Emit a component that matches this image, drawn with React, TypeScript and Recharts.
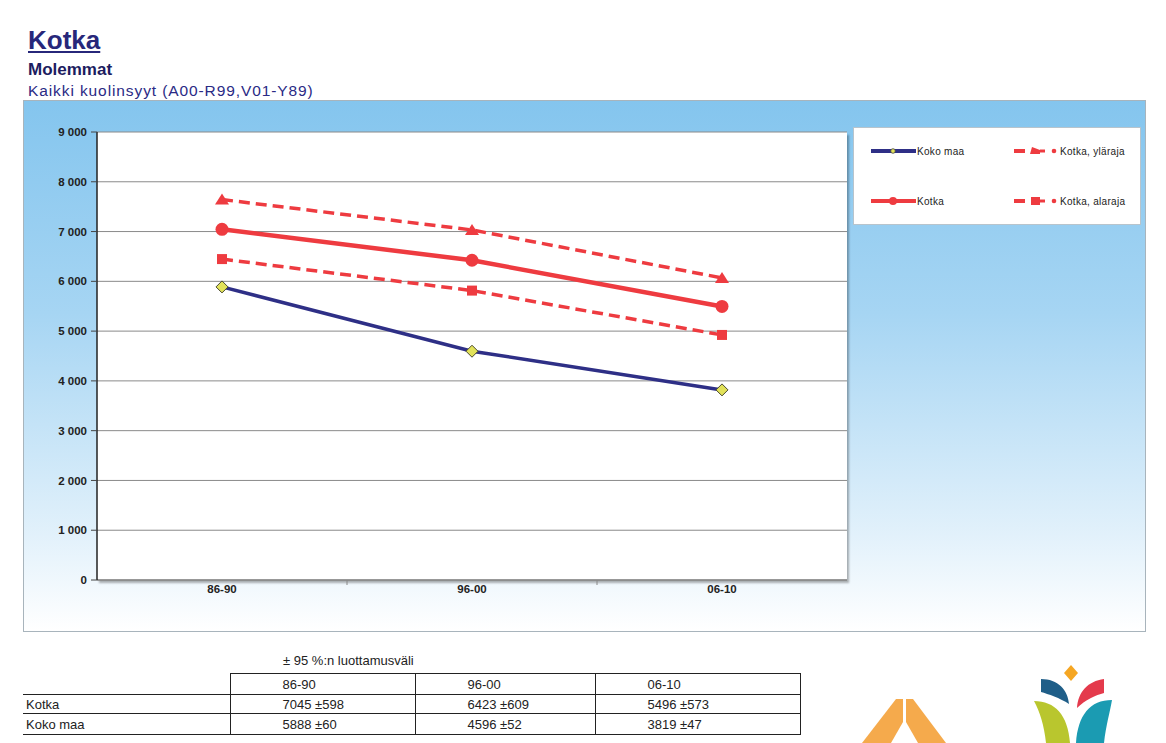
import React from 'react';
import { LineChart, Line, XAxis, YAxis, CartesianGrid, Legend } from 'recharts';

const periods = ['86-90', '96-00', '06-10'];
const kokoMaa = [5888, 4596, 3819];
const kotka = [7045, 6423, 5496];
const kotkaYlaraja = [7643, 7032, 6069];
const kotkaAlaraja = [6447, 5814, 4923];
const kotkaVali = [598, 609, 573];
const kokoMaaVali = [60, 52, 47];
const yTicks = [0, 1000, 2000, 3000, 4000, 5000, 6000, 7000, 8000, 9000];

const NAVY = '#2e2f86';
const RED = '#ee3b40';
const YELLOW = '#e2e25a';
const FONT = '"Liberation Sans", Arial, sans-serif';
const PLOT_W = 750;

const chartData = periods.map((period, i) => ({
  period,
  kokoMaa: kokoMaa[i],
  kotka: kotka[i],
  ylaraja: kotkaYlaraja[i],
  alaraja: kotkaAlaraja[i],
}));

const formatThousands = (v: number) => String(v).replace(/\B(?=(\d{3})+(?!\d))/g, ' ');

// markers
const diamondDot = (props: any) => {
  const { cx, cy, index } = props;
  return (
    <path
      key={`d-${index}`}
      d={`M${cx},${cy - 6} L${cx + 6},${cy} L${cx},${cy + 6} L${cx - 6},${cy} Z`}
      fill={YELLOW}
      stroke='#4a4a30'
      strokeWidth={1}
    />
  );
};
const circleDot = (props: any) => {
  const { cx, cy, index } = props;
  return <circle key={`c-${index}`} cx={cx} cy={cy} r={6.5} fill={RED} />;
};
const triangleDot = (props: any) => {
  const { cx, cy, index } = props;
  return <path key={`t-${index}`} d={`M${cx},${cy - 6} L${cx + 7},${cy + 5} L${cx - 7},${cy + 5} Z`} fill={RED} />;
};
const squareDot = (props: any) => {
  const { cx, cy, index } = props;
  return <rect key={`s-${index}`} x={cx - 5} y={cy - 5} width={10} height={10} fill={RED} />;
};

const XTick = (props: any) => {
  const { x, y, payload, index } = props;
  const half = PLOT_W / periods.length / 2;
  return (
    <g>
      <text x={x} y={y + 13} textAnchor='middle' fontSize={11.5} fontWeight='bold' fill='#222' fontFamily={FONT}>
        {payload.value}
      </text>
      {index < periods.length - 1 && <line x1={x + half} x2={x + half} y1={y} y2={y + 5} stroke='#888' />}
    </g>
  );
};

const legendItems = [
  { name: 'Koko maa', kind: 'koko', left: 17, top: 17 },
  { name: 'Kotka, yläraja', kind: 'yla', left: 160, top: 17 },
  { name: 'Kotka', kind: 'kotka', left: 17, top: 67 },
  { name: 'Kotka, alaraja', kind: 'ala', left: 160, top: 67 },
];

function LegendIcon({ kind }: { kind: string }) {
  if (kind === 'koko') {
    return (
      <svg width={46} height={12}>
        <line x1={0} x2={45} y1={6} y2={6} stroke={NAVY} strokeWidth={4} />
        <circle cx={22} cy={6} r={2.3} fill={YELLOW} stroke='#444' strokeWidth={0.8} />
      </svg>
    );
  }
  if (kind === 'kotka') {
    return (
      <svg width={46} height={12}>
        <line x1={0} x2={45} y1={6} y2={6} stroke={RED} strokeWidth={4} />
        <circle cx={22} cy={6} r={4} fill={RED} />
      </svg>
    );
  }
  return (
    <svg width={46} height={12}>
      <line x1={0} x2={11} y1={6} y2={6} stroke={RED} strokeWidth={4} />
      {kind === 'yla' ? (
        <path d='M18,2 L26,5 L26,9 L16,9 Z' fill={RED} />
      ) : (
        <rect x={17} y={2} width={9} height={8} fill={RED} />
      )}
      <line x1={26} x2={31} y1={6} y2={6} stroke={RED} strokeWidth={3} />
      <circle cx={40} cy={6} r={2.3} fill={RED} />
    </svg>
  );
}

function LegendBox() {
  return (
    <div
      style={{
        position: 'relative',
        width: 288,
        height: 98,
        background: '#fff',
        border: '1px solid #b8c4cc',
        boxSizing: 'border-box',
        fontFamily: FONT,
      }}
    >
      {legendItems.map((it) => (
        <div
          key={it.name}
          style={{
            position: 'absolute',
            left: it.left,
            top: it.top,
            display: 'flex',
            alignItems: 'center',
            fontSize: 10,
            letterSpacing: 0.3,
            color: '#222',
          }}
        >
          <LegendIcon kind={it.kind} />
          <span style={{ marginLeft: 0 }}>{it.name}</span>
        </div>
      ))}
    </div>
  );
}

function Logos() {
  return (
    <svg width={326} height={93} viewBox='840 650 326 93' style={{ position: 'absolute', left: 840, top: 650 }}>
      <path d='M896,699 L903,699 L903,722 L891,743 L862,743 Z' fill='#f5aa4c' />
      <path d='M913,699 L906,699 L906,722 L918,743 L946,743 Z' fill='#f5aa4c' />
      <path d='M1071,665 L1078,673 L1071,681 L1064,673 Z' fill='#f5a623' />
      <path d='M1041,679 C1058,679 1068,690 1069,704 C1060,698 1048,694 1041,692 Z' fill='#1f5e88' />
      <path d='M1104,679 C1088,681 1078,692 1077,708 C1085,700 1096,695 1104,693 Z' fill='#e43a4c' />
      <path d='M1034,701 C1055,701 1068,715 1070,743 L1046,743 C1044,725 1040,712 1034,701 Z' fill='#b9c62e' />
      <path d='M1112,700 C1090,700 1078,715 1076,743 L1104,743 C1106,725 1110,712 1112,700 Z' fill='#1b9bb2' />
    </svg>
  );
}

const cell: React.CSSProperties = { border: '1px solid #222', padding: '0 0 0 52px', textAlign: 'left', whiteSpace: 'nowrap' };
const labelCell: React.CSSProperties = { border: '1px solid #222', borderLeft: 'none', padding: '0 0 0 3px', textAlign: 'left' };

function ValueTable() {
  return (
    <>
      <div style={{ position: 'absolute', left: 283, top: 653, fontSize: 13, color: '#222', fontFamily: FONT }}>± 95 %:n luottamusväli</div>
      <table
        style={{
          position: 'absolute',
          left: 23,
          top: 673,
          borderCollapse: 'collapse',
          fontSize: 13,
          color: '#222',
          fontFamily: FONT,
          tableLayout: 'fixed',
          width: 777,
        }}
      >
        <colgroup>
          <col style={{ width: 207 }} />
          <col style={{ width: 185 }} />
          <col style={{ width: 180 }} />
          <col style={{ width: 205 }} />
        </colgroup>
        <tbody>
          <tr style={{ height: 21 }}>
            <td style={{ border: 'none', borderBottom: '1px solid #222' }} />
            {periods.map((p) => (
              <td key={p} style={cell}>
                {p}
              </td>
            ))}
          </tr>
          <tr style={{ height: 19 }}>
            <td style={labelCell}>Kotka</td>
            {kotka.map((v, i) => (
              <td key={i} style={cell}>
                {v} ±{kotkaVali[i]}
              </td>
            ))}
          </tr>
          <tr style={{ height: 21 }}>
            <td style={labelCell}>Koko maa</td>
            {kokoMaa.map((v, i) => (
              <td key={i} style={cell}>
                {v} ±{kokoMaaVali[i]}
              </td>
            ))}
          </tr>
        </tbody>
      </table>
    </>
  );
}

export default function App() {
  return (
    <div style={{ position: 'absolute', left: 0, top: 0, width: 1166, height: 743, overflow: 'hidden', background: '#fff', fontFamily: FONT }}>
      <div style={{ position: 'absolute', left: 28, top: 27, fontSize: 26, fontWeight: 'bold', color: '#27277a', textDecoration: 'underline', lineHeight: 1 }}>
        Kotka
      </div>
      <div style={{ position: 'absolute', left: 28, top: 61, fontSize: 17, fontWeight: 'bold', color: '#1c1c60', lineHeight: 1 }}>Molemmat</div>
      <div style={{ position: 'absolute', left: 28, top: 83, fontSize: 15.5, letterSpacing: 0.9, color: '#2a2a85', lineHeight: 1 }}>
        Kaikki kuolinsyyt (A00-R99,V01-Y89)
      </div>

      {/* blue gradient panel */}
      <div
        style={{
          position: 'absolute',
          left: 23,
          top: 100,
          width: 1123,
          height: 532,
          boxSizing: 'border-box',
          border: '1px solid #a8b4bc',
          background: 'linear-gradient(to bottom, #84c5ee 0%, #a6d5f3 40%, #e2f1fb 82%, #ffffff 100%)',
        }}
      />
      {/* plot shadow */}
      <div style={{ position: 'absolute', left: 97, top: 132, width: 750, height: 448, boxShadow: '2px 3px 2px rgba(0,0,0,0.3)' }} />

      <div style={{ position: 'absolute', left: 0, top: 0 }}>
        <LineChart width={1166} height={640} data={chartData} margin={{ top: 132, right: 319, left: 37, bottom: 30 }}>
          <CartesianGrid vertical={false} stroke='#8a8a8a' fill='#fff' fillOpacity={1} />
          <XAxis
            dataKey='period'
            scale='band'
            height={30}
            tickSize={0}
            tickMargin={0}
            tickLine={false}
            axisLine={{ stroke: '#888', strokeWidth: 1.5 }}
            tick={<XTick />}
            interval={0}
          />
          <YAxis
            width={60}
            domain={[0, 9000]}
            ticks={yTicks}
            interval={0}
            tickFormatter={formatThousands}
            tick={{ fontSize: 11.5, fontWeight: 'bold', fill: '#222', fontFamily: FONT }}
            tickSize={6}
            tickMargin={4}
            tickLine={{ stroke: '#444' }}
            axisLine={{ stroke: '#222', strokeWidth: 1.5 }}
          />
          <YAxis
            yAxisId='right'
            orientation='right'
            width={0}
            domain={[0, 9000]}
            tick={false}
            tickLine={false}
            axisLine={{ stroke: '#999', strokeWidth: 1.5 }}
          />
          <Legend
            layout='horizontal'
            verticalAlign='middle'
            align='center'
            content={() => <LegendBox />}
            wrapperStyle={{ left: 853, top: 127, width: 288, height: 98 }}
          />
          <Line dataKey='kokoMaa' name='Koko maa' stroke={NAVY} strokeWidth={3.5} dot={diamondDot} isAnimationActive={false} />
          <Line dataKey='ylaraja' name='Kotka, yläraja' stroke={RED} strokeWidth={3.5} strokeDasharray='11 6' dot={triangleDot} isAnimationActive={false} />
          <Line dataKey='kotka' name='Kotka' stroke={RED} strokeWidth={4.5} dot={circleDot} isAnimationActive={false} />
          <Line dataKey='alaraja' name='Kotka, alaraja' stroke={RED} strokeWidth={3.5} strokeDasharray='11 6' dot={squareDot} isAnimationActive={false} />
        </LineChart>
      </div>

      <ValueTable />
      <Logos />
    </div>
  );
}
